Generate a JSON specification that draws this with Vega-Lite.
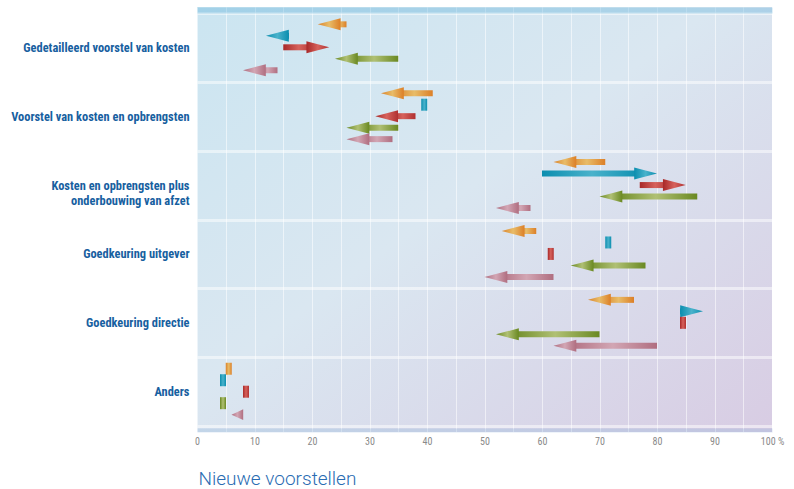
{
  "$schema": "https://vega.github.io/schema/vega-lite/v6.json",
  "autosize": "none",
  "padding": {"left": 197, "top": 7, "right": 22, "bottom": 57},
  "width": 575,
  "height": 425,
  "background": "#ffffff",
  "config": {
    "view": {
      "stroke": null,
      "fill": {
        "gradient": "linear", "x1": 0, "y1": 0, "x2": 1, "y2": 1,
        "stops": [
          {"offset": 0, "color": "#CBE5F1"},
          {"offset": 0.45, "color": "#DAE7F1"},
          {"offset": 1, "color": "#D8CCE3"}
        ]
      }
    },
    "font": "Roboto Condensed, Roboto, sans-serif"
  },
  "data": {
    "values": [
      {"stap": "Gedetailleerd voorstel van kosten", "reeks": "s1", "van": 26, "naar": 21},
      {"stap": "Gedetailleerd voorstel van kosten", "reeks": "s2", "van": 16, "naar": 12},
      {"stap": "Gedetailleerd voorstel van kosten", "reeks": "s3", "van": 15, "naar": 23},
      {"stap": "Gedetailleerd voorstel van kosten", "reeks": "s4", "van": 35, "naar": 24},
      {"stap": "Gedetailleerd voorstel van kosten", "reeks": "s5", "van": 14, "naar": 8},
      {"stap": "Voorstel van kosten en opbrengsten", "reeks": "s1", "van": 41, "naar": 32},
      {"stap": "Voorstel van kosten en opbrengsten", "reeks": "s2", "van": 39, "naar": 39},
      {"stap": "Voorstel van kosten en opbrengsten", "reeks": "s3", "van": 38, "naar": 31},
      {"stap": "Voorstel van kosten en opbrengsten", "reeks": "s4", "van": 35, "naar": 26},
      {"stap": "Voorstel van kosten en opbrengsten", "reeks": "s5", "van": 34, "naar": 26},
      {"stap": "Kosten en opbrengsten plus onderbouwing van afzet", "reeks": "s1", "van": 71, "naar": 62},
      {"stap": "Kosten en opbrengsten plus onderbouwing van afzet", "reeks": "s2", "van": 60, "naar": 80},
      {"stap": "Kosten en opbrengsten plus onderbouwing van afzet", "reeks": "s3", "van": 77, "naar": 85},
      {"stap": "Kosten en opbrengsten plus onderbouwing van afzet", "reeks": "s4", "van": 87, "naar": 70},
      {"stap": "Kosten en opbrengsten plus onderbouwing van afzet", "reeks": "s5", "van": 58, "naar": 52},
      {"stap": "Goedkeuring uitgever", "reeks": "s1", "van": 59, "naar": 53},
      {"stap": "Goedkeuring uitgever", "reeks": "s2", "van": 71, "naar": 71},
      {"stap": "Goedkeuring uitgever", "reeks": "s3", "van": 61, "naar": 61},
      {"stap": "Goedkeuring uitgever", "reeks": "s4", "van": 78, "naar": 65},
      {"stap": "Goedkeuring uitgever", "reeks": "s5", "van": 62, "naar": 50},
      {"stap": "Goedkeuring directie", "reeks": "s1", "van": 76, "naar": 68},
      {"stap": "Goedkeuring directie", "reeks": "s2", "van": 84, "naar": 88},
      {"stap": "Goedkeuring directie", "reeks": "s3", "van": 84, "naar": 84},
      {"stap": "Goedkeuring directie", "reeks": "s4", "van": 70, "naar": 52},
      {"stap": "Goedkeuring directie", "reeks": "s5", "van": 80, "naar": 62},
      {"stap": "Anders", "reeks": "s1", "van": 5, "naar": 5},
      {"stap": "Anders", "reeks": "s2", "van": 4, "naar": 4},
      {"stap": "Anders", "reeks": "s3", "van": 8, "naar": 8},
      {"stap": "Anders", "reeks": "s4", "van": 4, "naar": 4},
      {"stap": "Anders", "reeks": "s5", "van": 8, "naar": 6}
    ]
  },
  "encoding": {
    "y": {
      "field": "stap", "type": "nominal",
      "sort": ["Gedetailleerd voorstel van kosten", "Voorstel van kosten en opbrengsten", "Kosten en opbrengsten plus onderbouwing van afzet", "Goedkeuring uitgever", "Goedkeuring directie", "Anders"],
      "scale": {"paddingInner": 0, "paddingOuter": 0.085},
      "axis": {
        "title": null, "domain": false, "ticks": false,
        "tickBand": "extent",
        "grid": true, "gridColor": "#ffffff", "gridOpacity": 0.5, "gridWidth": 3,
        "labelPadding": 8, "labelFont": "Roboto Condensed, Roboto", "labelFontSize": 12.4, "labelFontWeight": "bold", "labelColor": "#17609F",
        "labelLineHeight": 15, "labelLimit": 200,
        "labelExpr": "datum.label === 'Kosten en opbrengsten plus onderbouwing van afzet' ? ['Kosten en opbrengsten plus', 'onderbouwing van afzet'] : datum.label"
      }
    },
    "yOffset": {
      "field": "reeks", "type": "nominal",
      "scale": {"domain": ["s1", "s2", "s3", "s4", "s5"], "paddingInner": 0, "paddingOuter": 0.5}
    },
    "fill": {
      "condition": [
        {"test": "datum.reeks === 's1'", "value": {"gradient": "linear", "stops": [{"offset": 0, "color": "#DB832A"}, {"offset": 0.5, "color": "#E8BC68"}, {"offset": 1, "color": "#DC7F27"}]}},
        {"test": "datum.reeks === 's2'", "value": {"gradient": "linear", "stops": [{"offset": 0, "color": "#0B8EAF"}, {"offset": 0.5, "color": "#4AB2CB"}, {"offset": 1, "color": "#0B8EAF"}]}},
        {"test": "datum.reeks === 's3'", "value": {"gradient": "linear", "stops": [{"offset": 0, "color": "#A82828"}, {"offset": 0.5, "color": "#D6625C"}, {"offset": 1, "color": "#B03030"}]}},
        {"test": "datum.reeks === 's4'", "value": {"gradient": "linear", "stops": [{"offset": 0, "color": "#6A8922"}, {"offset": 0.5, "color": "#B0C074"}, {"offset": 1, "color": "#6A8922"}]}}
      ],
      "value": {"gradient": "linear", "stops": [{"offset": 0, "color": "#B06E80"}, {"offset": 0.5, "color": "#D2A6B4"}, {"offset": 1, "color": "#B06E80"}]}
    }
  },
  "resolve": {"axis": {"x": "independent"}},
  "layer": [
    {
      "transform": [{"filter": "datum.van - datum.naar >= 3"}],
      "mark": {"type": "bar", "height": 6, "x2Offset": 15},
      "encoding": {
        "x": {
          "field": "van", "type": "quantitative",
          "scale": {"domain": [0, 100], "nice": false},
          "axis": {
            "orient": "bottom",
            "values": [0, 5, 10, 15, 20, 25, 30, 35, 40, 45, 50, 55, 60, 65, 70, 75, 80, 85, 90, 95, 100],
            "grid": true, "gridColor": "#ffffff", "gridOpacity": 0.55, "gridWidth": 1,
            "ticks": false,
            "domain": true, "domainColor": "#8AB0D8", "domainOpacity": 0.28, "domainWidth": 4, "offset": -2,
            "labelExpr": "datum.value % 10 === 0 ? (datum.value === 100 ? '100 %' : datum.label) : ''",
            "labelOverlap": false, "labelFlush": false, "labelPadding": 6,
            "labelFont": "Roboto Condensed, Roboto", "labelFontSize": 10, "labelColor": "#8A8A8A",
            "title": "Nieuwe voorstellen",
            "titleFont": "Roboto", "titleFontWeight": 300, "titleFontSize": 19, "titleColor": "#2A6CB2",
            "titleAnchor": "start", "titleAlign": "left", "titleBaseline": "alphabetic",
            "titleX": 1, "titleY": 54
          }
        },
        "x2": {"field": "naar"}
      }
    },
    {
      "transform": [{"filter": "datum.naar - datum.van >= 3"}],
      "mark": {"type": "bar", "height": 6, "x2Offset": -15},
      "encoding": {
        "x": {"field": "van", "type": "quantitative", "axis": null},
        "x2": {"field": "naar"}
      }
    },
    {
      "transform": [{"filter": "datum.van - datum.naar >= 3"}],
      "mark": {"type": "point", "filled": true, "opacity": 1, "size": 144, "strokeWidth": 0, "shape": "M0,0L3.8,-1L3.8,1Z"},
      "encoding": {"x": {"field": "naar", "type": "quantitative", "axis": null}}
    },
    {
      "transform": [{"filter": "datum.naar - datum.van >= 3"}],
      "mark": {"type": "point", "filled": true, "opacity": 1, "size": 144, "strokeWidth": 0, "shape": "M0,0L-3.8,-1L-3.8,1Z"},
      "encoding": {"x": {"field": "naar", "type": "quantitative", "axis": null}}
    },
    {
      "transform": [{"filter": "datum.van - datum.naar > 0 && datum.van - datum.naar < 3"}],
      "mark": {"type": "point", "filled": true, "opacity": 1, "size": 144, "strokeWidth": 0, "shape": "M0,0L1.95,-0.9L1.95,0.9Z"},
      "encoding": {"x": {"field": "naar", "type": "quantitative", "axis": null}}
    },
    {
      "transform": [{"filter": "datum.van === datum.naar"}],
      "mark": {"type": "tick", "opacity": 1, "thickness": 6, "size": 12, "xOffset": 3},
      "encoding": {
        "x": {
          "field": "van", "type": "quantitative",
          "axis": {
            "orient": "top", "labels": false, "ticks": false, "grid": false, "title": null,
            "domain": true, "domainColor": "#4FA8D6", "domainOpacity": 0.32, "domainWidth": 6, "offset": -3
          }
        }
      }
    }
  ]
}
